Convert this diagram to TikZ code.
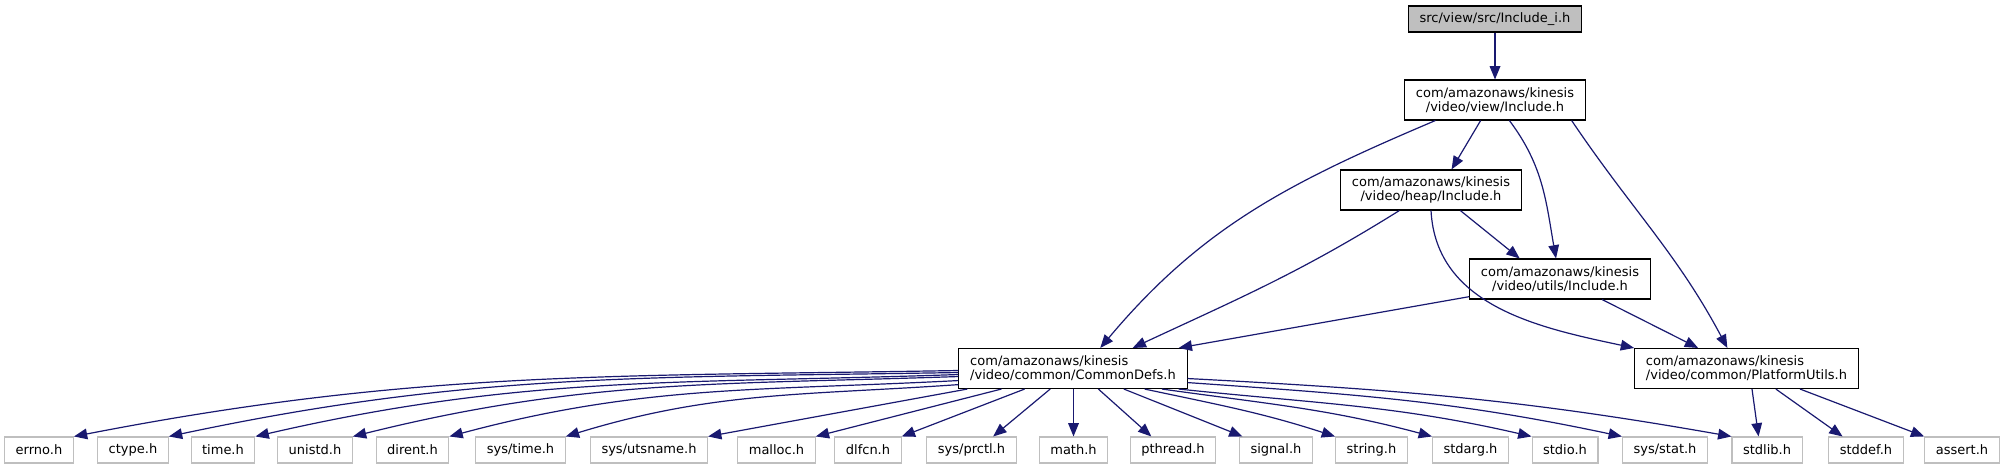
\documentclass[tikz,border=0pt]{standalone}
\usepackage{fontspec}
\setmainfont{DejaVu Sans}
\usetikzlibrary{arrows.meta}
\definecolor{edgeblue}{HTML}{191970}
\definecolor{greyline}{HTML}{BFBFBF}

\begin{document}
\begin{tikzpicture}[x=0.75pt, y=0.75pt,
    font=\fontsize{9.75}{10.5}\selectfont,
    srcfile/.style={draw=black, fill=greyline, line width=0.8pt,
                    inner xsep=8.5pt, inner ysep=0pt, minimum height=19.5pt},
    header/.style={draw=black, fill=white, line width=0.8pt,
                   inner xsep=8.5pt, inner ysep=2pt, minimum height=30pt},
    sysheader/.style={draw=greyline, fill=white, line width=0.8pt,
                      inner xsep=8.3pt, inner ysep=0pt, minimum height=19.5pt},
    incarr/.style={-{Triangle[length=10pt, width=8pt]}, color=edgeblue, line width=0.9pt},
]
\useasboundingbox (0,0) rectangle (2006,-469);

% ─── Source file + project headers ────────────────────────────────
\node[srcfile] (includei) at (1495,-19) {src/view/src/Include\_i.h};

\node[header, align=center] (viewinc)  at (1495,-100) {com/amazonaws/kinesis\\/video/view/Include.h};
\node[header, align=center] (heapinc)  at (1431,-190) {com/amazonaws/kinesis\\/video/heap/Include.h};
\node[header, align=center] (utilsinc) at (1560,-279) {com/amazonaws/kinesis\\/video/utils/Include.h};

\node[header, align=left] (commondefs)    at (1073,-368.5)   {com/amazonaws/kinesis\\/video/common/CommonDefs.h};
\node[header, align=left] (platformutils) at (1746.5,-368.5) {com/amazonaws/kinesis\\/video/common/PlatformUtils.h};

% ─── System headers (bottom row) ──────────────────────────────────
\node[sysheader] (errno)      at (39,-450)     {errno.h};
\node[sysheader] (ctype)      at (133,-450)    {ctype.h};
\node[sysheader] (timeh)      at (223,-450)    {time.h};
\node[sysheader] (unistd)     at (315,-450)    {unistd.h};
\node[sysheader] (dirent)     at (412.5,-450)  {dirent.h};
\node[sysheader] (systime)    at (520.5,-450)  {sys/time.h};
\node[sysheader] (sysutsname) at (649,-450)    {sys/utsname.h};
\node[sysheader] (malloc)     at (776.5,-450)  {malloc.h};
\node[sysheader] (dlfcn)      at (868,-450)    {dlfcn.h};
\node[sysheader] (sysprctl)   at (971.5,-450)  {sys/prctl.h};
\node[sysheader] (math)       at (1073.5,-450) {math.h};
\node[sysheader] (pthread)    at (1173,-450)   {pthread.h};
\node[sysheader] (signal)     at (1276,-450)   {signal.h};
\node[sysheader] (string)     at (1371.5,-450) {string.h};
\node[sysheader] (stdarg)     at (1470.5,-450) {stdarg.h};
\node[sysheader] (stdio)      at (1565,-450)   {stdio.h};
\node[sysheader] (sysstat)    at (1665,-450)   {sys/stat.h};
\node[sysheader] (stdlib)     at (1767,-450)   {stdlib.h};
\node[sysheader] (stddef)     at (1866,-450)   {stddef.h};
\node[sysheader] (assert)     at (1962,-450)   {assert.h};

% ─── Upper edges ─────────────────────────────────────────────────
\draw[incarr] (includei.south) -- (viewinc.north);

\draw[incarr] (viewinc.235) -- (heapinc.45);
\draw[incarr] (viewinc.199) to[out=203, in=50] (commondefs.37);
\draw[incarr] (viewinc.305) to[out=-53, in=100] (utilsinc.101);
\draw[incarr] (viewinc.345) to[out=-56, in=118] (platformutils.133);

\draw[incarr] (heapinc.213) to[out=212, in=25] (commondefs.19);
\draw[incarr] (heapinc.325) -- (utilsinc.153);
\draw[incarr] (heapinc.south) to[out=-87, in=168] (platformutils.north west);

\draw[incarr] (utilsinc.191) -- (commondefs.11);
\draw[incarr] (utilsinc.334) -- (platformutils.157);

% ─── CommonDefs.h -> system headers ──────────────────────────────
% left side: long shallow curves
\draw[incarr] (commondefs.181) to[out=181, in=11] (errno.north east);
\draw[incarr] (commondefs.182) to[out=181, in=12] (ctype.north east);
\draw[incarr] (commondefs.183) to[out=182, in=13] (timeh.north east);
\draw[incarr] (commondefs.184) to[out=182, in=14] (unistd.north east);
\draw[incarr] (commondefs.186) to[out=183, in=15] (dirent.north east);
\draw[incarr] (commondefs.188) to[out=184, in=17] (systime.north east);

% bottom: nearly straight
\draw[incarr] (commondefs.191) -- (sysutsname.north east);
\draw[incarr] (commondefs.196) -- (malloc.north east);
\draw[incarr] (commondefs.203) -- (dlfcn.north east);
\draw[incarr] (commondefs.222) -- (sysprctl.32);
\draw[incarr] (commondefs.south -| math) -- (math.north);
\draw[incarr] (commondefs.321) -- (pthread.148);
\draw[incarr] (commondefs.338) -- (signal.158);

% right side: curves again
\draw[incarr] (commondefs.344) to[out=-12, in=162] (string.north west);
\draw[incarr] (commondefs.347) to[out=-8, in=165] (stdarg.north west);
\draw[incarr] (commondefs.349) to[out=-6, in=167] (stdio.north west);
\draw[incarr] (commondefs.353) to[out=-4, in=168] (sysstat.north west);
\draw[incarr] (commondefs.355) to[out=-3, in=170] (stdlib.north west);

% ─── PlatformUtils.h -> system headers ───────────────────────────
\draw[incarr] (platformutils.285) -- (stdlib.122);
\draw[incarr] (platformutils.325) -- (stddef.150);
\draw[incarr] (platformutils.339) -- (assert.north west);

\end{tikzpicture}
\end{document}
